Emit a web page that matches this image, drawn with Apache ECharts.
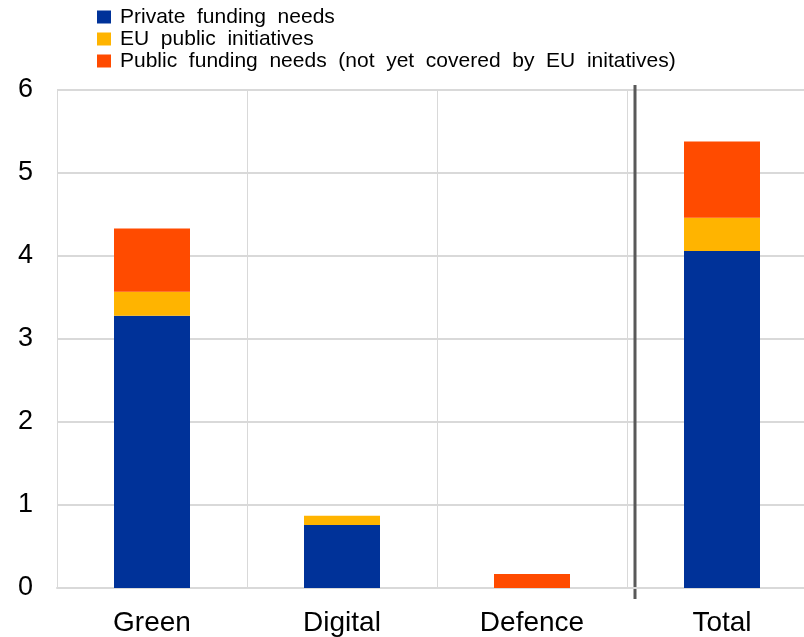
<!DOCTYPE html>
<html>
<head>
<meta charset="utf-8">
<script src="https://cdn.jsdelivr.net/npm/echarts@6/dist/echarts.min.js"></script>
<style>
html,body{margin:0;padding:0;background:#fff;}
#chart{width:804px;height:637px;}
</style>
</head>
<body>
<div id="chart"></div>
<script>
const categories = ['Green', 'Digital', 'Defence', 'Total'];
const seriesNames = ['Private funding needs', 'EU public initiatives', 'Public funding needs (not yet covered by EU initatives)'];
const privateNeeds = [3.28, 0.76, 0, 4.06];
const euInitiatives = [0.29, 0.11, 0, 0.40];
const publicNeeds = [0.76, 0, 0.17, 0.92];
const yTicks = [0, 1, 2, 3, 4, 5, 6];
const colors = ['#003299', '#FFB400', '#FF4B00'];

const chart = echarts.init(document.getElementById('chart'));
const font = 'Liberation Sans, Arial, sans-serif';
const mk = (name, data, color) => ({
  name, type: 'bar', stack: 'a', data, barWidth: '40%',
  itemStyle: { color }, emphasis: { disabled: true }
});
chart.setOption({
  animation: false,
  textStyle: { fontFamily: font },
  legend: {
    orient: 'vertical', left: 92, top: 1, itemWidth: 14, itemHeight: 13, itemGap: 0,
    icon: 'rect',
    formatter: (n) => n.replace(/ /g, '  '),
    textStyle: { fontSize: 21, lineHeight: 22, color: '#000', fontFamily: font, padding: [0, 0, 0, 4] },
    data: seriesNames
  },
  grid: { left: 57, top: 90, width: 760, height: 498, outerBoundsMode: 'none', containLabel: false },
  xAxis: {
    type: 'category', data: categories,
    axisLine: { lineStyle: { color: '#d9d9d9', width: 2 } },
    axisTick: { show: false },
    splitLine: { show: true, lineStyle: { color: '#d9d9d9', width: 1 } },
    axisLabel: { fontSize: 28, color: '#000', margin: 21, fontFamily: font }
  },
  yAxis: {
    type: 'value', min: yTicks[0], max: yTicks[yTicks.length - 1], interval: 1,
    axisLine: { show: false }, axisTick: { show: false },
    splitLine: { lineStyle: { color: '#d9d9d9', width: 2 } },
    axisLabel: { fontSize: 27, color: '#000', margin: 24, fontFamily: font }
  },
  series: [
    mk(seriesNames[0], privateNeeds, colors[0]),
    mk(seriesNames[1], euInitiatives, colors[1]),
    mk(seriesNames[2], publicNeeds, colors[2])
  ]
});

// divider between Defence and Total, placed from the category axis
const pDef = chart.convertToPixel({ xAxisIndex: 0 }, 'Defence');
const pTot = chart.convertToPixel({ xAxisIndex: 0 }, 'Total');
const boundary = (pDef + pTot) / 2 + 8;
const yTop = chart.convertToPixel({ yAxisIndex: 0 }, 6);
const yBot = chart.convertToPixel({ yAxisIndex: 0 }, 0);
chart.setOption({
  graphic: [{
    type: 'line', silent: true,
    shape: { x1: boundary, y1: yTop - 5, x2: boundary, y2: yBot + 11 },
    style: { stroke: '#595959', lineWidth: 3 }
  }]
});
</script>
</body>
</html>
